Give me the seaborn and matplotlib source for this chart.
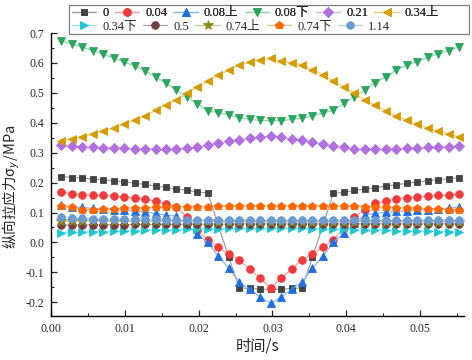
import matplotlib
matplotlib.use("Agg")
import matplotlib.pyplot as plt
import numpy as np
import pandas as pd
import seaborn as sns
from matplotlib import ticker
from matplotlib.colors import to_rgb
from matplotlib.patches import Rectangle

# time grid (s)
time = [0.00136, 0.00278, 0.00420, 0.00562, 0.00704, 0.00846, 0.00988, 0.01130,
        0.01272, 0.01414, 0.01556, 0.01698, 0.01840, 0.01982, 0.02124, 0.02266,
        0.02408, 0.02550, 0.02692, 0.02834, 0.02976, 0.03118, 0.03260, 0.03402,
        0.03544, 0.03686, 0.03828, 0.03970, 0.04112, 0.04254, 0.04396, 0.04538,
        0.04680, 0.04822, 0.04964, 0.05106, 0.05248, 0.05390, 0.05532]

nan = np.nan
s_0 = [0.220, 0.217, 0.215, 0.212, 0.209, 0.206, 0.203, 0.198, 0.194, 0.188, 0.184, 0.179, 0.174,
       0.169, 0.165, nan, -0.050, -0.152, -0.154, -0.156, -0.157, -0.156, -0.154, -0.152, -0.050,
       nan, 0.164, 0.168, 0.174, 0.178, 0.183, 0.188, 0.193, 0.197, 0.202, 0.206, 0.209, 0.213, 0.216]
s_004 = [0.168, 0.163, 0.160, 0.159, 0.157, 0.155, 0.152, 0.148, 0.145, 0.138, 0.129, 0.119, 0.084,
         0.041, 0.008, -0.016, -0.039, -0.059, -0.090, -0.120, -0.152, -0.120, -0.090, -0.059, -0.039,
         -0.016, 0.008, 0.047, 0.086, 0.110, 0.132, 0.138, 0.145, 0.149, 0.153, 0.155, 0.157, 0.159, 0.162]
s_008u = [0.125, 0.119, 0.117, 0.114, 0.113, 0.110, 0.108, 0.105, 0.101, 0.097, 0.091, 0.088, 0.058,
          0.027, 0.000, -0.045, -0.087, -0.132, -0.157, -0.182, -0.204, -0.182, -0.157, -0.132, -0.087,
          -0.045, 0.000, 0.030, 0.064, 0.092, 0.097, 0.101, 0.104, 0.106, 0.108, 0.110, 0.112, 0.115, 0.119]
s_008d = [0.673, 0.663, 0.653, 0.641, 0.629, 0.617, 0.603, 0.590, 0.574, 0.553, 0.532, 0.509, 0.487,
          0.463, 0.440, 0.434, 0.426, 0.417, 0.411, 0.408, 0.407, 0.407, 0.411, 0.415, 0.423, 0.433,
          0.442, 0.465, 0.487, 0.509, 0.534, 0.554, 0.576, 0.593, 0.604, 0.619, 0.630, 0.641, 0.654]
s_021 = [0.324, 0.322, 0.320, 0.318, 0.317, 0.316, 0.314, 0.313, 0.312, 0.311, 0.311, 0.311, 0.314,
         0.320, 0.326, 0.333, 0.340, 0.344, 0.349, 0.353, 0.355, 0.351, 0.346, 0.342, 0.335, 0.329,
         0.322, 0.318, 0.313, 0.311, 0.311, 0.311, 0.313, 0.314, 0.315, 0.318, 0.318, 0.320, 0.322]
s_034u = [0.339, 0.347, 0.353, 0.362, 0.373, 0.382, 0.396, 0.409, 0.422, 0.441, 0.459, 0.476, 0.498,
          0.520, 0.540, 0.558, 0.576, 0.594, 0.602, 0.610, 0.615, 0.607, 0.601, 0.594, 0.576, 0.560,
          0.540, 0.520, 0.498, 0.476, 0.459, 0.440, 0.422, 0.409, 0.396, 0.383, 0.373, 0.362, 0.353]
s_034d = [0.033, 0.034, 0.034, 0.035, 0.036, 0.037, 0.038, 0.039, 0.040, 0.041, 0.042, 0.043, 0.044,
          0.045, 0.046, 0.046, 0.047, 0.047, 0.047, 0.047, 0.047, 0.047, 0.047, 0.047, 0.046, 0.046,
          0.045, 0.044, 0.043, 0.042, 0.041, 0.040, 0.039, 0.038, 0.038, 0.037, 0.036, 0.036, 0.035]
s_05 = [0.058, 0.058, 0.058, 0.059, 0.059, 0.059, 0.059, 0.060, 0.060, 0.060, 0.060, 0.060, 0.061,
        0.061, 0.061, 0.061, 0.061, 0.062, 0.062, 0.062, 0.062, 0.062, 0.062, 0.062, 0.062, 0.062,
        0.062, 0.062, 0.062, 0.062, 0.062, 0.062, 0.062, 0.062, 0.062, 0.062, 0.062, 0.062, 0.062]
s_074u = [0.070, 0.070, 0.070, 0.070, 0.070, 0.070, 0.070, 0.070, 0.070, 0.070, 0.070, 0.070, 0.070,
          0.070, 0.070, 0.069, 0.069, 0.069, 0.069, 0.069, 0.069, 0.069, 0.069, 0.069, 0.069, 0.069,
          0.069, 0.069, 0.069, 0.069, 0.069, 0.069, 0.069, 0.069, 0.069, 0.069, 0.069, 0.069, 0.069]
s_074d = [0.121, 0.117, 0.110, 0.110, 0.111, 0.112, 0.114, 0.115, 0.116, 0.117, 0.118, 0.119, 0.119,
          0.120, 0.120, 0.121, 0.121, 0.121, 0.121, 0.121, 0.121, 0.121, 0.121, 0.121, 0.122, 0.122,
          0.122, 0.121, 0.121, 0.120, 0.119, 0.118, 0.116, 0.115, 0.114, 0.112, 0.111, 0.110, 0.110]
s_114 = [0.085, 0.082, 0.080, 0.079, 0.078, 0.078, 0.077, 0.077, 0.077, 0.077, 0.076, 0.076, 0.076,
         0.076, 0.076, 0.075, 0.075, 0.075, 0.075, 0.075, 0.075, 0.075, 0.075, 0.075, 0.075, 0.075,
         0.075, 0.075, 0.075, 0.075, 0.075, 0.075, 0.075, 0.075, 0.075, 0.075, 0.075, 0.075, 0.075]

labels = ["0", "0.04", "0.08上", "0.08下", "0.21", "0.34上", "0.34下", "0.5", "0.74上", "0.74下", "1.14"]
series = [s_0, s_004, s_008u, s_008d, s_021, s_034u, s_034d, s_05, s_074u, s_074d, s_114]
colors = ["#434343", "#f03a3c", "#1f6fe0", "#2ba65f", "#b070e0", "#d49c00",
          "#1fc8cf", "#6f3f3f", "#8c8c1e", "#ff6600", "#6b9bd2"]
markers = ["s", "o", "^", "v", "D", "<", ">", "o", "*", "p", "o"]
msizes = [4.8, 5.5, 5.8, 5.8, 4.6, 5.8, 5.8, 5.5, 7.5, 6.2, 5.5]

sns.set_style("ticks")
plt.rcParams["font.family"] = ["Liberation Serif", "Noto Sans CJK SC"]
plt.rcParams["axes.unicode_minus"] = True

fig, ax = plt.subplots(figsize=(4.72, 3.6), dpi=100)
fig.subplots_adjust(left=0.1087, right=0.983, bottom=0.123, top=0.9083)

for lab, vals, c, m, ms in zip(labels, series, colors, markers, msizes):
    df = pd.DataFrame({"t": time, "v": vals})
    light = tuple(0.5 * np.array(to_rgb(c)) + 0.5)
    sns.lineplot(data=df, x="t", y="v", ax=ax, color=light, linewidth=0.9,
                 marker=m, markersize=ms, markerfacecolor=c, markeredgecolor=c,
                 markeredgewidth=0.6, label=lab, errorbar=None)

ax.set_xlim(0, 0.056)
ax.set_ylim(-0.245, 0.7)
ax.xaxis.set_major_locator(ticker.MultipleLocator(0.01))
ax.xaxis.set_minor_locator(ticker.MultipleLocator(0.005))
ax.xaxis.set_major_formatter(ticker.FormatStrFormatter("%.2f"))
ax.yaxis.set_major_locator(ticker.MultipleLocator(0.1))
ax.yaxis.set_minor_locator(ticker.MultipleLocator(0.05))
ax.yaxis.set_major_formatter(ticker.FormatStrFormatter("%.1f"))
ax.tick_params(which="major", direction="in", length=4, width=0.9, labelsize=8.5, pad=5)
ax.tick_params(which="minor", direction="in", length=2, width=0.8)
sns.despine(ax=ax)
for sp in ["left", "bottom"]:
    ax.spines[sp].set_linewidth(1.0)
    ax.spines[sp].set_color("black")

ax.set_xlabel("时间/s", fontsize=11, family=["Noto Sans CJK SC"], labelpad=2)
ax.set_ylabel("纵向拉应力σ$_y$/MPa", fontsize=10.5, family=["Noto Sans CJK SC"])
ax.yaxis.set_label_coords(-0.07, 0.455)

# legend: two packed rows inside one gray box, as in the original
handles, labs = ax.get_legend_handles_labels()
ax.get_legend().remove()
leg_kw = dict(loc="center left", fontsize=9, frameon=False, handlelength=1.95,
              handletextpad=0.48, columnspacing=0.5, borderpad=0, borderaxespad=0)
row1 = fig.legend(handles[:6], labs[:6], ncol=6, bbox_to_anchor=(0.1525, 0.963), **leg_kw)
row2 = fig.legend(handles[6:], labs[6:], ncol=5, bbox_to_anchor=(0.1525, 0.926), **leg_kw)
fig.add_artist(row1)
fig.patches.append(Rectangle((0.1468, 0.9056), 0.8468, 0.0814, transform=fig.transFigure,
                             fill=False, edgecolor="#808080", linewidth=0.9, figure=fig))

plt.savefig("out.png", dpi=100)
plt.close()
print("save png file: out.png")
